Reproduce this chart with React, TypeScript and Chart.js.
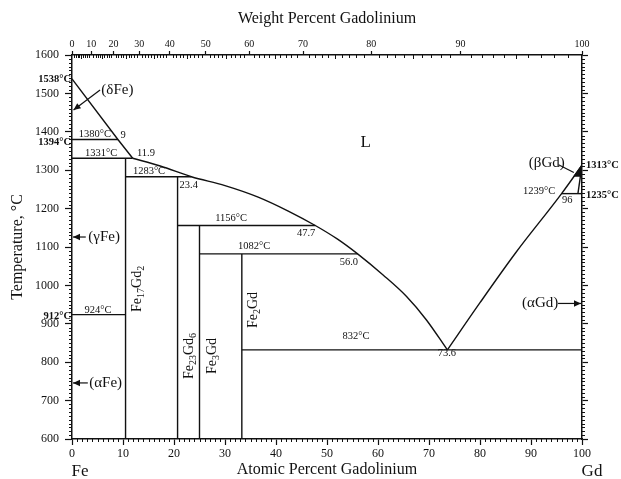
import React, { useEffect, useRef } from "react";
import { Chart, registerables } from "chart.js";

Chart.register(...registerables);

const FONT = "'Liberation Serif', 'Times New Roman', serif";
const INK = "#111";

// ---- data (atomic % Gd, temperature °C) ----
const feLiquidusAt = [0, 9.0, 11.9];
const feLiquidusT = [1538, 1380, 1331];

const liquidusAt = [11.9, 17.3, 23.4, 30.0, 36.5, 42.5, 47.7, 52.0, 56.0, 61.0, 65.6, 69.5, 73.6];
const liquidusT = [1331, 1311, 1283, 1260, 1230, 1193, 1156, 1121, 1082, 1027, 971, 910, 832];

const gdLiquidusAt = [73.6, 80.0, 87.0, 96.0, 100];
const gdLiquidusT = [832, 955, 1085, 1239, 1313];

const gdSolvusAt = [100, 99.2];
const gdSolvusT = [1313, 1239];

const betaGdAt = [100, 98.5, 99.6, 100];
const betaGdT = [1313, 1285, 1285, 1313];

const isoT = [1380, 1331, 1283, 1156, 1082, 924, 832, 1239];
const isoFrom = [0, 0, 10.5, 20.7, 25.0, 0, 33.3, 96.0];
const isoTo = [9.0, 11.9, 23.4, 47.7, 56.0, 10.5, 100, 100];

const compoundAt = [10.5, 20.7, 25.0, 33.3];
const compoundTopT = [1331, 1283, 1156, 1082];
const compoundBottomT = 600;

const atomicTicks = [0, 10, 20, 30, 40, 50, 60, 70, 80, 90, 100];
const weightTicks = [0, 10, 20, 30, 40, 50, 60, 70, 80, 90, 100];
const tempTicks = [600, 700, 800, 900, 1000, 1100, 1200, 1300, 1400, 1500, 1600];

const leftSpecialT = [1538, 1394, 912];
const rightSpecialT = [1313, 1235];

// annotation texts: [text, at%, T]
const pointLabels: [string, number, number][] = [
  ["1380°C", 4.5, 1393],
  ["9", 10.0, 1392],
  ["1331°C", 5.7, 1345],
  ["11.9", 14.5, 1345],
  ["1283°C", 15.1, 1297],
  ["23.4", 22.9, 1261],
  ["1156°C", 31.2, 1174],
  ["47.7", 45.9, 1135],
  ["1082°C", 35.7, 1101],
  ["56.0", 54.3, 1061],
  ["832°C", 55.7, 868],
  ["73.6", 73.5, 824],
  ["924°C", 5.1, 936],
  ["1239°C", 91.6, 1246],
  ["96", 97.1, 1222],
];

const phaseLabels: [string, number, number][] = [
  ["L", 57.6, 1371],
  ["(δFe)", 8.9, 1509],
  ["(γFe)", 6.3, 1126],
  ["(αFe)", 6.6, 746],
  ["(αGd)", 91.8, 953],
  ["(βGd)", 93.1, 1319],
];

// formula parts: [text, isSubscript]
const compoundFormulas: [string, boolean][][] = [
  [["Fe", false], ["17", true], ["Gd", false], ["2", true]],
  [["Fe", false], ["23", true], ["Gd", false], ["6", true]],
  [["Fe", false], ["3", true], ["Gd", false]],
  [["Fe", false], ["2", true], ["Gd", false]],
];
const compoundLabelAt = [12.5, 22.7, 27.3, 35.2];
const compoundLabelT = [991, 816, 816, 936];

// leader lines: [fromAt, fromT, toAt, toT, arrowHead]
const leaders: [number, number, number, number, boolean][] = [
  [5.5, 1509, 0.3, 1457, true],
  [2.7, 1126, 0.2, 1126, true],
  [3.1, 746, 0.2, 746, true],
  [95.3, 953, 99.8, 953, true],
  [95.4, 1314, 98.4, 1294, false],
];

const wtToAt = (w: number) => {
  const g = w / 157.25;
  const f = (100 - w) / 55.845;
  return (g / (g + f)) * 100;
};

const pts = (xs: number[], ys: number[]) => xs.map((x, i) => ({ x, y: ys[i] }));

const lineDs = (data: { x: number; y: number }[], extra: any = {}) => ({
  data,
  showLine: true,
  borderColor: INK,
  borderWidth: 1.4,
  pointRadius: 0,
  fill: false,
  ...extra,
});

const annotPlugin = {
  id: "phaseAnnotations",
  afterDraw(chart: any) {
    const { ctx, chartArea } = chart;
    const sx = chart.scales.x;
    const sy = chart.scales.y;
    const X = (v: number) => sx.getPixelForValue(v);
    const Y = (v: number) => sy.getPixelForValue(v);
    ctx.save();
    ctx.strokeStyle = INK;
    ctx.fillStyle = INK;
    ctx.lineWidth = 1;

    // minor ticks bottom (every 1 at%)
    ctx.beginPath();
    for (let v = 0; v <= 100; v++) {
      if (v % 10 === 0) continue;
      const x = Math.round(X(v)) + 0.5;
      ctx.moveTo(x, chartArea.bottom);
      ctx.lineTo(x, chartArea.bottom + 3);
    }
    // minor ticks top (every 1 wt%), pointing inward
    for (let w = 0; w <= 100; w++) {
      if (w % 10 === 0) continue;
      const x = Math.round(X(wtToAt(w))) + 0.5;
      ctx.moveTo(x, chartArea.top);
      ctx.lineTo(x, chartArea.top + (w % 5 === 0 ? 4 : 3));
    }
    // minor ticks left / right (every 10 °C)
    for (let t = 600; t <= 1600; t += 10) {
      if (t % 100 === 0) continue;
      const y = Math.round(Y(t)) + 0.5;
      ctx.moveTo(chartArea.left, y);
      ctx.lineTo(chartArea.left - 3, y);
      ctx.moveTo(chartArea.right, y);
      ctx.lineTo(chartArea.right + 3, y);
    }
    ctx.stroke();

    // small numeric labels
    ctx.textAlign = "center";
    ctx.textBaseline = "middle";
    ctx.font = `10.5px ${FONT}`;
    pointLabels.forEach(([t, a, T]) => ctx.fillText(t, X(a), Y(T)));

    // phase labels
    phaseLabels.forEach(([t, a, T]) => {
      ctx.font = t === "L" ? `17px ${FONT}` : `15px ${FONT}`;
      ctx.fillText(t, X(a), Y(T));
    });

    // leaders / arrows
    ctx.lineWidth = 1.2;
    leaders.forEach(([a1, t1, a2, t2, head]) => {
      const x1 = X(a1), y1 = Y(t1), x2 = X(a2), y2 = Y(t2);
      ctx.beginPath();
      ctx.moveTo(x1, y1);
      ctx.lineTo(x2, y2);
      ctx.stroke();
      if (head) {
        const ang = Math.atan2(y2 - y1, x2 - x1);
        const L = 7, H = 3.2;
        ctx.beginPath();
        ctx.moveTo(x2, y2);
        ctx.lineTo(x2 - L * Math.cos(ang) + H * Math.sin(ang), y2 - L * Math.sin(ang) - H * Math.cos(ang));
        ctx.lineTo(x2 - L * Math.cos(ang) - H * Math.sin(ang), y2 - L * Math.sin(ang) + H * Math.cos(ang));
        ctx.closePath();
        ctx.fill();
      }
    });

    // compound formulas (rotated)
    compoundFormulas.forEach((parts, i) => {
      const cx = X(compoundLabelAt[i]);
      const cy = Y(compoundLabelT[i]);
      const mainF = `14px ${FONT}`;
      const subF = `10px ${FONT}`;
      let total = 0;
      parts.forEach(([s, sub]) => {
        ctx.font = sub ? subF : mainF;
        total += ctx.measureText(s).width;
      });
      ctx.save();
      ctx.translate(cx, cy);
      ctx.rotate(-Math.PI / 2);
      ctx.textAlign = "left";
      ctx.textBaseline = "alphabetic";
      let pos = -total / 2;
      parts.forEach(([s, sub]) => {
        ctx.font = sub ? subF : mainF;
        ctx.fillText(s, pos, sub ? 8 : 5);
        pos += ctx.measureText(s).width;
      });
      ctx.restore();
    });

    // special temperatures on the axes
    ctx.font = `bold 10.5px ${FONT}`;
    ctx.textBaseline = "middle";
    ctx.textAlign = "right";
    const leftNudge = [0, 8, -3];
    leftSpecialT.forEach((t, i) => ctx.fillText(`${t}°C`, chartArea.left - 1, Y(t) + leftNudge[i]));
    ctx.textAlign = "left";
    rightSpecialT.forEach((t) => ctx.fillText(`${t}°C`, chartArea.right + 4, Y(t)));

    // element names
    ctx.font = `17px ${FONT}`;
    ctx.textAlign = "center";
    ctx.fillText("Fe", X(0) + 8, chartArea.bottom + 33);
    ctx.fillText("Gd", X(100) + 10, chartArea.bottom + 33);

    ctx.restore();
  },
};

export default function App() {
  const ref = useRef<HTMLCanvasElement>(null);

  useEffect(() => {
    if (!ref.current) return;
    const datasets: any[] = [
      lineDs(pts(feLiquidusAt, feLiquidusT)),
      lineDs(pts(liquidusAt, liquidusT), { cubicInterpolationMode: "monotone" }),
      lineDs(pts(gdLiquidusAt, gdLiquidusT), { cubicInterpolationMode: "monotone" }),
      lineDs(pts(gdSolvusAt, gdSolvusT)),
      lineDs(pts(betaGdAt, betaGdT), { fill: "shape", backgroundColor: INK }),
    ];
    isoT.forEach((t, i) => datasets.push(lineDs(pts([isoFrom[i], isoTo[i]], [t, t]))));
    compoundAt.forEach((a, i) =>
      datasets.push(lineDs(pts([a, a], [compoundBottomT, compoundTopT[i]])))
    );

    const tickFont = { family: FONT, size: 12 };
    const plain = (v: any) => String(v);
    const chart = new Chart(ref.current, {
      type: "scatter",
      data: { datasets },
      options: {
        animation: false,
        responsive: false,
        layout: { padding: 0 },
        plugins: { legend: { display: false }, tooltip: { enabled: false } },
        scales: {
          x: {
            type: "linear",
            position: "bottom",
            min: 0,
            max: 100,
            afterBuildTicks: (s: any) => {
              s.ticks = atomicTicks.map((v) => ({ value: v }));
            },
            ticks: { color: INK, font: tickFont, padding: 2, maxRotation: 0, autoSkip: false, callback: plain },
            grid: { drawOnChartArea: false, tickLength: 6, color: INK, tickWidth: 1.2 },
            border: { color: INK, width: 1.5 },
            title: {
              display: true,
              text: "Atomic Percent Gadolinium",
              color: INK,
              font: { family: FONT, size: 16 },
              padding: { top: 0, bottom: 0 },
            },
            afterFit: (s: any) => {
              s.height = 40;
            },
          },
          x2: {
            type: "linear",
            position: "top",
            min: 0,
            max: 100,
            afterBuildTicks: (s: any) => {
              s.ticks = weightTicks.map((w) => ({ value: wtToAt(w) }));
            },
            ticks: {
              color: INK,
              font: { family: FONT, size: 10 },
              padding: 1,
              maxRotation: 0,
              autoSkip: false,
              callback: (_v: any, i: number) => String(weightTicks[i]),
            },
            grid: { drawOnChartArea: false, tickLength: 4, color: INK, tickWidth: 1.2 },
            border: { color: INK, width: 1.5 },
            title: {
              display: true,
              text: "Weight Percent Gadolinium",
              color: INK,
              font: { family: FONT, size: 16 },
              padding: { top: 9, bottom: 0 },
            },
            afterFit: (s: any) => {
              s.height = 55;
            },
          },
          y: {
            type: "linear",
            position: "left",
            min: 600,
            max: 1600,
            afterBuildTicks: (s: any) => {
              s.ticks = tempTicks.map((v) => ({ value: v }));
            },
            ticks: { color: INK, font: tickFont, padding: 6, autoSkip: false, callback: plain },
            grid: { drawOnChartArea: false, tickLength: 7, color: INK, tickWidth: 1.2 },
            border: { color: INK, width: 1.5 },
            title: {
              display: true,
              text: "Temperature, °C",
              color: INK,
              font: { family: FONT, size: 16 },
              padding: { top: 8, bottom: 0 },
            },
            afterFit: (s: any) => {
              s.width = 72;
            },
          },
          y2: {
            type: "linear",
            position: "right",
            min: 600,
            max: 1600,
            afterBuildTicks: (s: any) => {
              s.ticks = tempTicks.map((v) => ({ value: v }));
            },
            ticks: { display: false },
            grid: { drawOnChartArea: false, tickLength: 6, color: INK, tickWidth: 1.2 },
            border: { color: INK, width: 1.5 },
            afterFit: (s: any) => {
              s.width = 39;
            },
          },
        },
      } as any,
      plugins: [annotPlugin],
    });
    return () => chart.destroy();
  }, []);

  return (
    <div style={{ position: "fixed", left: 0, top: 0, width: 621, height: 479, background: "#fff" }}>
      <canvas ref={ref} width={621} height={479} style={{ display: "block" }} />
    </div>
  );
}
